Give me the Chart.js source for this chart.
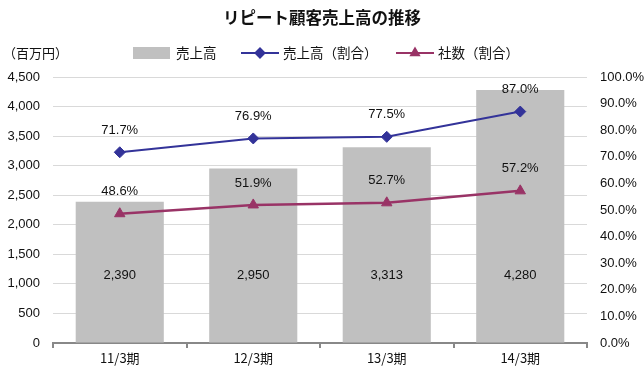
<!DOCTYPE html>
<html>
<head>
<meta charset="utf-8">
<script src="https://cdn.jsdelivr.net/npm/chart.js@4/dist/chart.umd.min.js"></script>
<style>
  html, body { margin: 0; padding: 0; background: #fff; }
  #wrap { width: 644px; height: 374px; }
</style>
</head>
<body>
<div id="wrap"><canvas id="chart" width="644" height="374"></canvas></div>
<script>
const categories = ['11/3期', '12/3期', '13/3期', '14/3期'];
const sales = [2390, 2950, 3313, 4280];
const salesRatio = [71.7, 76.9, 77.5, 87.0];
const companyRatio = [48.6, 51.9, 52.7, 57.2];

const TITLE = 'リピート顧客売上高の推移';
const UNIT = '（百万円）';
const LATIN = '"Liberation Sans", Arial, sans-serif';
const JP = '"Noto Sans CJK JP", "Liberation Sans", sans-serif';

const BAR_COLOR = '#c0c0c0';
const BLUE = '#333399';
const PURPLE = '#993366';

const fmt = n => n.toLocaleString('en-US');

// titre, unité et légende dessinés à la main
const decorPlugin = {
  id: 'decor',
  afterDraw(chart) {
    const ctx = chart.ctx;
    ctx.save();
    ctx.fillStyle = '#111';
    ctx.textBaseline = 'middle';
    ctx.textAlign = 'center';
    ctx.font = 'bold 16.5px ' + JP;
    ctx.fillText(TITLE, 322, 18);

    ctx.textAlign = 'left';
    ctx.font = '13px ' + JP;
    ctx.fillText(UNIT, 3, 53);

    // légende
    ctx.font = '13.5px ' + JP;
    ctx.fillStyle = BAR_COLOR;
    ctx.fillRect(133, 47, 37, 12);
    ctx.fillStyle = '#111';
    ctx.fillText('売上高', 176, 53);

    const lineItem = (x, color, style, label) => {
      ctx.strokeStyle = color;
      ctx.lineWidth = 2;
      ctx.beginPath();
      ctx.moveTo(x, 53);
      ctx.lineTo(x + 38, 53);
      ctx.stroke();
      ctx.fillStyle = color;
      Chart.helpers.drawPoint(ctx, { pointStyle: style, radius: 4.5, borderWidth: 1 }, x + 19, 53);
      ctx.fillStyle = '#111';
      ctx.fillText(label, x + 42, 53);
    };
    lineItem(241, BLUE, 'rectRot', '売上高（割合）');
    lineItem(396, PURPLE, 'triangle', '社数（割合）');

    // étiquettes de valeurs
    ctx.font = '13px ' + LATIN;
    ctx.textAlign = 'center';
    ctx.fillStyle = '#111';
    chart.data.datasets.forEach((ds, i) => {
      const meta = chart.getDatasetMeta(i);
      meta.data.forEach((el, j) => {
        if (ds.type === 'bar') {
          ctx.fillText(fmt(ds.data[j]), el.x, chart.chartArea.bottom - 68);
        } else {
          ctx.fillText(ds.data[j].toFixed(1) + '%', el.x, el.y - 22);
        }
      });
    });
    ctx.restore();
  }
};

new Chart(document.getElementById('chart'), {
  type: 'bar',
  data: {
    labels: categories,
    datasets: [
      {
        type: 'line',
        label: '売上高(割合)',
        data: salesRatio,
        yAxisID: 'y2',
        borderColor: BLUE,
        backgroundColor: BLUE,
        borderWidth: 2,
        pointStyle: 'rectRot',
        pointRadius: 5.5,
        pointBorderWidth: 1,
        order: 1,
      },
      {
        type: 'line',
        label: '社数(割合)',
        data: companyRatio,
        yAxisID: 'y2',
        borderColor: PURPLE,
        backgroundColor: PURPLE,
        borderWidth: 2.5,
        pointStyle: 'triangle',
        pointRadius: 6,
        pointBorderWidth: 1,
        order: 2,
      },
      {
        type: 'bar',
        label: '売上高',
        data: sales,
        yAxisID: 'y',
        backgroundColor: BAR_COLOR,
        categoryPercentage: 1,
        barPercentage: 0.66,
        order: 3,
      },
    ],
  },
  options: {
    responsive: false,
    animation: false,
    layout: { padding: { top: 77, left: 0, right: 0, bottom: 0 } },
    plugins: {
      legend: { display: false },
      title: { display: false },
      tooltip: { enabled: false },
    },
    scales: {
      x: {
        grid: {
          offset: true,
          drawOnChartArea: false,
          drawTicks: true,
          tickLength: 5,
          color: '#888',
          lineWidth: 2,
        },
        border: { color: '#888', width: 2 },
        ticks: { color: '#111', font: { family: JP, size: 13 }, padding: 2 },
        afterFit: s => { s.height = 31; },
      },
      y: {
        position: 'left',
        min: 0,
        max: 4500,
        ticks: {
          stepSize: 500,
          color: '#111',
          font: { family: LATIN, size: 13 },
          padding: 13,
          callback: v => fmt(v),
        },
        grid: { color: '#d9d9d9', drawTicks: false },
        border: { display: false },
        afterFit: s => { s.width = 53; },
      },
      y2: {
        position: 'right',
        min: 0,
        max: 100,
        ticks: {
          stepSize: 10,
          color: '#111',
          font: { family: LATIN, size: 13 },
          padding: 13,
          callback: v => v.toFixed(1) + '%',
        },
        grid: { display: false, drawTicks: false },
        border: { display: false },
        afterFit: s => { s.width = 57; },
      },
    },
  },
  plugins: [decorPlugin],
});
</script>
</body>
</html>
